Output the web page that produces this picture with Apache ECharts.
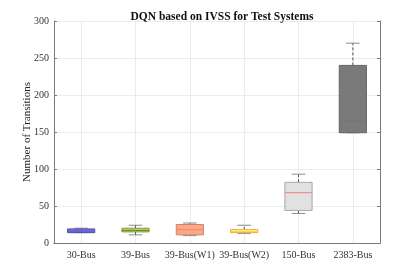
<!DOCTYPE html>
<html><head><meta charset="utf-8">
<script src="https://cdn.jsdelivr.net/npm/echarts@6/dist/echarts.min.js"></script>
<style>html,body{margin:0;padding:0;background:#fff}#c{width:420px;height:274px}</style>
</head><body><div id="c"></div>
<script>
var categories = ['30-Bus', '39-Bus', '39-Bus(W1)', '39-Bus(W2)', '150-Bus', '2383-Bus'];
var minVals    = [14, 11, 10, 13, 40, 149];
var q1Vals     = [14, 15, 11, 14, 44, 149];
var medianVals = [16, 17, 18, 15, 68, 165];
var q3Vals     = [19, 20, 25, 18, 82, 240];
var maxVals    = [20, 24, 27, 24, 93, 270];
var yTicks     = [0, 50, 100, 150, 200, 250, 300];

var fills   = ['#7676EE', '#BCD064', '#FFA686', '#FFFF6E', '#E1E1E1', '#7A7A7A'];
var borders = ['#4B4BA8', '#8C9A40', '#C8876E', '#F0A040', '#A8A8A8', '#656565'];
var medCols = ['#5A5AC0', '#5E8C2C', '#E38A6C', '#F5C040', '#F08080', '#826E6E'];

var boxData = categories.map(function (c, i) {
  return [i, minVals[i], q1Vals[i], medianVals[i], q3Vals[i], maxVals[i]];
});

function renderItem(params, api) {
  var i = api.value(0);
  var pMin = api.coord([i, api.value(1)]);
  var pQ1 = api.coord([i, api.value(2)]);
  var pMed = api.coord([i, api.value(3)]);
  var pQ3 = api.coord([i, api.value(4)]);
  var pMax = api.coord([i, api.value(5)]);
  var band = api.size([1, 0])[0];
  var bw = band * 0.5, cw = band * 0.25;
  var x = pQ1[0];
  var children = [];
  children.push({type: 'line', shape: {x1: x, y1: pQ3[1], x2: x, y2: pMax[1]},
    style: {stroke: '#555', lineWidth: 1, lineDash: [3, 2]}});
  children.push({type: 'line', shape: {x1: x, y1: pQ1[1], x2: x, y2: pMin[1]},
    style: {stroke: '#555', lineWidth: 1, lineDash: [3, 2]}});
  children.push({type: 'line', shape: {x1: x - cw / 2, y1: pMax[1], x2: x + cw / 2, y2: pMax[1]},
    style: {stroke: '#8a8a8a', lineWidth: 1}});
  children.push({type: 'line', shape: {x1: x - cw / 2, y1: pMin[1], x2: x + cw / 2, y2: pMin[1]},
    style: {stroke: '#8a8a8a', lineWidth: 1}});
  children.push({type: 'rect', shape: {x: x - bw / 2, y: pQ3[1], width: bw, height: Math.max(pQ1[1] - pQ3[1], 1)},
    style: {fill: fills[i], stroke: borders[i], lineWidth: 1}});
  children.push({type: 'line', shape: {x1: x - bw / 2, y1: pMed[1], x2: x + bw / 2, y2: pMed[1]},
    style: {stroke: medCols[i], lineWidth: 1}});
  return {type: 'group', children: children};
}

var serif = '"Liberation Serif", "DejaVu Serif", serif';
var chart = echarts.init(document.getElementById('c'), null, {renderer: 'canvas'});
chart.setOption({
  animation: false,
  backgroundColor: '#fff',
  title: {
    text: 'DQN based on IVSS for Test Systems', left: 217, top: 6, textAlign: 'center',
    textStyle: {fontFamily: serif, fontWeight: 'bold', fontSize: 11.5, color: '#111'}
  },
  grid: {left: 54, right: 40, top: 21, bottom: 31},
  xAxis: [{
    type: 'category', data: categories, boundaryGap: true,
    axisLine: {lineStyle: {color: '#7a7a7a'}},
    axisTick: {alignWithLabel: true, inside: true, length: 3, lineStyle: {color: '#7a7a7a'}},
    axisLabel: {fontFamily: serif, fontSize: 10, color: '#333', margin: 7, interval: 0},
    splitLine: {show: true, alignWithLabel: true, lineStyle: {color: '#ebebeb'}}
  }, {
    type: 'category', data: categories, boundaryGap: true, position: 'top',
    axisLine: {show: true, lineStyle: {color: '#7a7a7a'}},
    axisTick: {alignWithLabel: true, inside: true, length: 3, lineStyle: {color: '#7a7a7a'}},
    axisLabel: {show: false}, splitLine: {show: false}
  }],
  yAxis: [{
    type: 'value', min: 0, max: 300, interval: 50,
    name: 'Number of Transitions', nameLocation: 'middle', nameGap: 21, nameMoveOverlap: false,
    nameTextStyle: {fontFamily: serif, fontSize: 11, color: '#222'},
    axisLine: {show: true, lineStyle: {color: '#7a7a7a'}},
    axisTick: {show: true, inside: true, length: 3, lineStyle: {color: '#7a7a7a'}},
    axisLabel: {fontFamily: serif, fontSize: 10, color: '#333', margin: 5,
      formatter: function (v) { return yTicks.indexOf(v) >= 0 ? String(v) : ''; }},
    splitLine: {show: true, lineStyle: {color: '#ebebeb'}}
  }, {
    type: 'value', min: 0, max: 300, interval: 50, position: 'right',
    axisLine: {show: true, lineStyle: {color: '#7a7a7a'}},
    axisTick: {show: true, inside: true, length: 3, lineStyle: {color: '#7a7a7a'}},
    axisLabel: {show: false}, splitLine: {show: false}
  }],
  series: [{
    type: 'custom', renderItem: renderItem, data: boxData,
    xAxisIndex: 0, yAxisIndex: 0,
    encode: {x: 0, y: [1, 2, 3, 4, 5]}
  }]
});
</script></body></html>
